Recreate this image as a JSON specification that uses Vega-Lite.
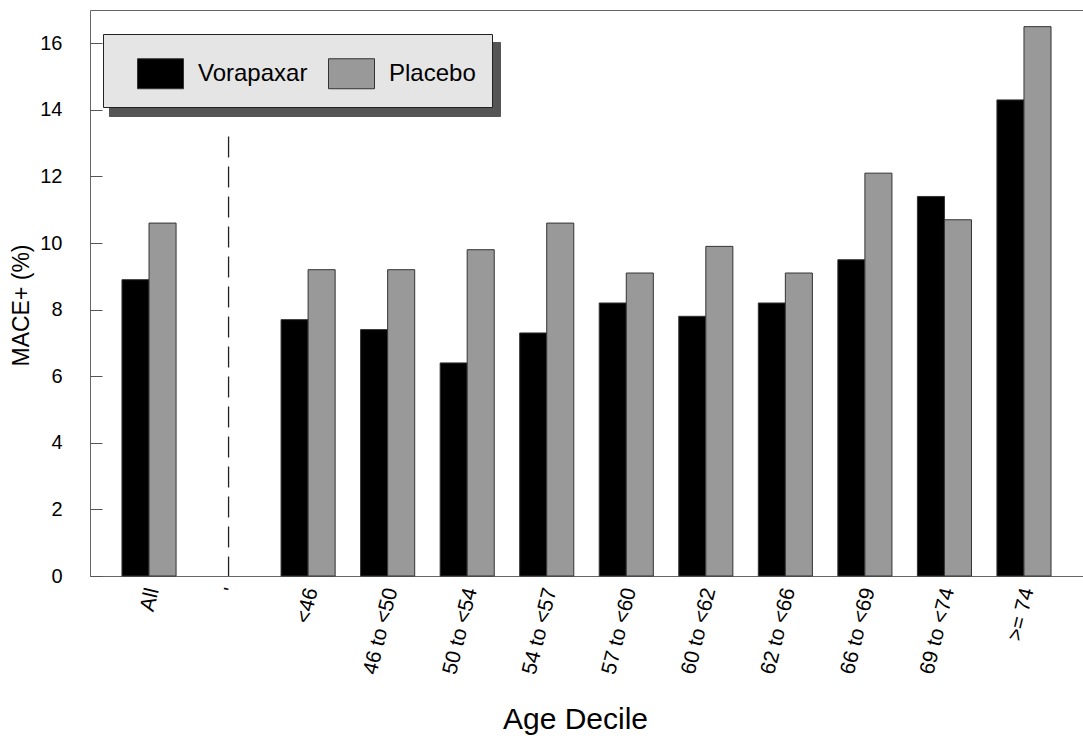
{
  "$schema": "https://vega.github.io/schema/vega-lite/v6.json",
  "width": 993,
  "height": 566,
  "autosize": {"type": "none"},
  "padding": {"left": 90, "top": 10, "right": 0, "bottom": 162},
  "background": "white",
  "config": {
    "font": "Liberation Sans",
    "view": {"stroke": "#666666", "strokeWidth": 1},
    "axis": {"grid": false, "domain": false, "labelFont": "Liberation Sans", "labelColor": "black", "titleFont": "Liberation Sans", "titleColor": "black", "titleFontWeight": "normal"}
  },
  "layer": [
    {
      "data": {"values": [
        {"decile": "All", "group": "Vorapaxar", "value": 8.9},
        {"decile": "All", "group": "Placebo", "value": 10.6},
        {"decile": "<46", "group": "Vorapaxar", "value": 7.7},
        {"decile": "<46", "group": "Placebo", "value": 9.2},
        {"decile": "46 to <50", "group": "Vorapaxar", "value": 7.4},
        {"decile": "46 to <50", "group": "Placebo", "value": 9.2},
        {"decile": "50 to <54", "group": "Vorapaxar", "value": 6.4},
        {"decile": "50 to <54", "group": "Placebo", "value": 9.8},
        {"decile": "54 to <57", "group": "Vorapaxar", "value": 7.3},
        {"decile": "54 to <57", "group": "Placebo", "value": 10.6},
        {"decile": "57 to <60", "group": "Vorapaxar", "value": 8.2},
        {"decile": "57 to <60", "group": "Placebo", "value": 9.1},
        {"decile": "60 to <62", "group": "Vorapaxar", "value": 7.8},
        {"decile": "60 to <62", "group": "Placebo", "value": 9.9},
        {"decile": "62 to <66", "group": "Vorapaxar", "value": 8.2},
        {"decile": "62 to <66", "group": "Placebo", "value": 9.1},
        {"decile": "66 to <69", "group": "Vorapaxar", "value": 9.5},
        {"decile": "66 to <69", "group": "Placebo", "value": 12.1},
        {"decile": "69 to <74", "group": "Vorapaxar", "value": 11.4},
        {"decile": "69 to <74", "group": "Placebo", "value": 10.7},
        {"decile": ">= 74", "group": "Vorapaxar", "value": 14.3},
        {"decile": ">= 74", "group": "Placebo", "value": 16.5}
      ]},
      "mark": {"type": "bar", "stroke": "#333333", "strokeWidth": 1},
      "encoding": {
        "x": {
          "field": "decile", "type": "nominal",
          "scale": {"domain": ["All", "'", "<46", "46 to <50", "50 to <54", "54 to <57", "57 to <60", "60 to <62", "62 to <66", "66 to <69", "69 to <74", ">= 74"], "paddingInner": 0.32, "paddingOuter": 0.402},
          "axis": {"title": "Age Decile", "ticks": false, "labelAngle": -76, "labelAlign": "right", "labelBaseline": "middle", "labelFontSize": 21, "labelPadding": 12, "labelOffset": 4, "titleFontSize": 30, "titlePadding": 29, "titleX": 485}
        },
        "xOffset": {"field": "group", "type": "nominal", "scale": {"domain": ["Vorapaxar", "Placebo"], "paddingInner": 0, "paddingOuter": 0}},
        "y": {
          "field": "value", "type": "quantitative",
          "scale": {"domain": [0, 17], "nice": false},
          "axis": {"title": "MACE+ (%)", "values": [0, 2, 4, 6, 8, 10, 12, 14, 16], "tickSize": -12, "tickColor": "#555555", "labelFontSize": 20, "labelPadding": 40, "titleFontSize": 23, "titlePadding": 6, "titleY": 295}
        },
        "color": {
          "field": "group", "type": "nominal",
          "scale": {"domain": ["Vorapaxar", "Placebo"], "range": ["#000000", "#999999"]},
          "legend": {"orient": "none", "legendX": 13, "legendY": 24, "direction": "horizontal", "title": null, "fillColor": "#e5e5e5", "strokeColor": "#222222", "padding": 16, "symbolType": "M-1,-0.652L1,-0.652L1,0.652L-1,0.652Z", "symbolSize": 2116, "symbolStrokeColor": "#333333", "symbolStrokeWidth": 1, "symbolOffset": 18, "labelOffset": 14, "labelFontSize": 24, "labelColor": "black", "labelFont": "Liberation Sans", "columnPadding": 2, "zindex": 2, "labelLimit": 300}
        },
        "opacity": {
          "field": "group", "type": "ordinal",
          "scale": {"domain": ["Placebo", "Vorapaxar"], "range": [1, 1]},
          "legend": {"orient": "none", "legendX": 19, "legendY": 32, "direction": "horizontal", "title": null, "fillColor": "#555555", "strokeColor": "#555555", "padding": 16, "symbolType": "M-1,-0.652L1,-0.652L1,0.652L-1,0.652Z", "symbolSize": 2116, "symbolOffset": 18, "labelOffset": 14, "labelFontSize": 24, "labelColor": "transparent", "labelFont": "Liberation Sans", "columnPadding": 2, "zindex": 1, "labelLimit": 300,
            "encode": {"symbols": {"update": {"opacity": {"value": 0}}}, "labels": {"update": {"opacity": {"value": 0}}}}}
        }
      }
    },
    {
      "data": {"values": [{"decile": "'", "top": 13.2, "bottom": 0}]},
      "mark": {"type": "rule", "strokeDash": [21, 9], "color": "#222222", "strokeWidth": 1.3},
      "encoding": {
        "x": {"field": "decile", "type": "nominal"},
        "y": {"field": "top", "type": "quantitative"},
        "y2": {"field": "bottom"}
      }
    }
  ]
}
